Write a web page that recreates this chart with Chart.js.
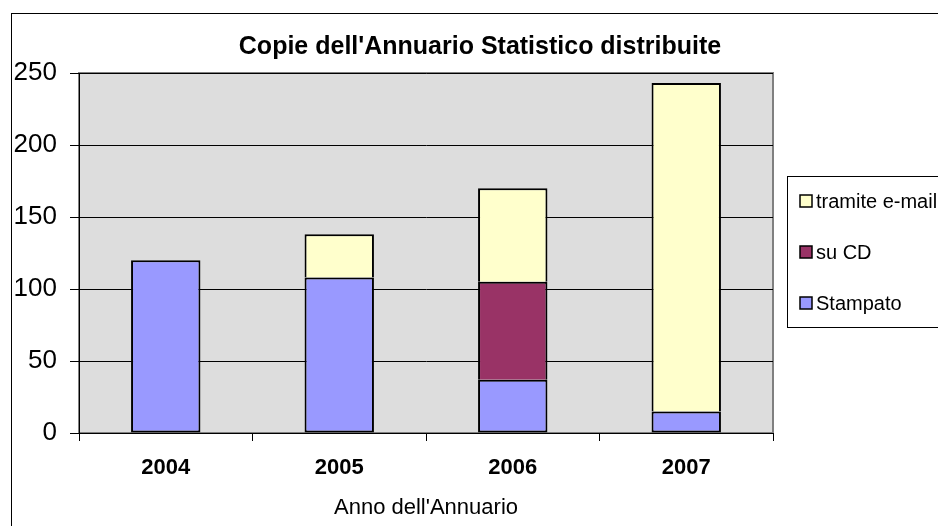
<!DOCTYPE html>
<html>
<head>
<meta charset="utf-8">
<script src="https://cdn.jsdelivr.net/npm/chart.js@4.4.1/dist/chart.umd.min.js"></script>
<style>
  html, body { margin: 0; padding: 0; background: #fff; }
  canvas { display: block; }
</style>
</head>
<body>
<canvas id="annuarioChart" width="938" height="526"></canvas>
<script>
// data
const years = ['2004', '2005', '2006', '2007'];
const stampato = [120, 108, 37, 15];
const suCD = [null, null, 68, null];
const tramiteEmail = [null, 30, 65, 228];
const yTicks = [0, 50, 100, 150, 200, 250];

const FONT = '"Liberation Sans", Arial, sans-serif';

// frame, plot background, title and legend (Excel style)
const excelFrame = {
    id: 'excelFrame',
    beforeDraw(chart) {
        const ctx = chart.ctx;
        const a = chart.chartArea;
        ctx.save();
        ctx.fillStyle = '#fff';
        ctx.fillRect(0, 0, chart.width, chart.height);
        // outer chart border
        ctx.strokeStyle = '#000';
        ctx.lineWidth = 1;
        ctx.strokeRect(11.5, 13.5, chart.width + 20, chart.height + 20);
        // plot area
        ctx.fillStyle = '#dddddd';
        ctx.fillRect(a.left, a.top, a.right - a.left, a.bottom - a.top);
        ctx.strokeStyle = '#808080';
        ctx.lineWidth = 2;
        ctx.strokeRect(a.left, a.top, a.right - a.left, a.bottom - a.top);
        ctx.restore();
    },
    afterDraw(chart) {
        const ctx = chart.ctx;
        ctx.save();
        // title
        ctx.fillStyle = '#000';
        ctx.font = 'bold 25px ' + FONT;
        ctx.textAlign = 'center';
        ctx.textBaseline = 'middle';
        ctx.fillText("Copie dell'Annuario Statistico distribuite", 480, 47);

        // legend box
        ctx.strokeStyle = '#000';
        ctx.lineWidth = 1;
        ctx.strokeRect(787.5, 176.5, 170, 151);
        const sets = chart.data.datasets.slice().reverse();
        ctx.font = '20px ' + FONT;
        ctx.textAlign = 'left';
        sets.forEach(function(ds, i) {
            const cy = 201 + i * 51;
            ctx.fillStyle = ds.backgroundColor;
            ctx.fillRect(800, cy - 6, 12, 12);
            ctx.strokeStyle = '#000';
            ctx.lineWidth = 1.5;
            ctx.strokeRect(800, cy - 6, 12, 12);
            ctx.fillStyle = '#000';
            ctx.fillText(ds.label, 816, cy + 1);
        });
        ctx.restore();
    }
};

const ctx = document.getElementById('annuarioChart').getContext('2d');
const annuarioChart = new Chart(ctx, {
    type: 'bar',
    data: {
        labels: years,
        datasets: [
            {
                label: 'Stampato',
                data: stampato,
                backgroundColor: '#9999ff',
                borderColor: '#000',
                borderWidth: 2,
                borderSkipped: false
            },
            {
                label: 'su CD',
                data: suCD,
                backgroundColor: '#993366',
                borderColor: '#000',
                borderWidth: 2,
                borderSkipped: 'bottom'
            },
            {
                label: 'tramite e-mail',
                data: tramiteEmail,
                backgroundColor: '#ffffcc',
                borderColor: '#000',
                borderWidth: 2,
                borderSkipped: 'bottom'
            }
        ]
    },
    options: {
        responsive: false,
        animation: false,
        events: [],
        layout: {
            padding: { left: 11, right: 165, top: 73, bottom: 0 }
        },
        datasets: {
            bar: { categoryPercentage: 1, barPercentage: 0.4 }
        },
        scales: {
            x: {
                stacked: true,
                grid: {
                    offset: true,
                    drawOnChartArea: false,
                    drawTicks: true,
                    tickLength: 8,
                    color: '#000'
                },
                border: { display: true, color: '#000', width: 1 },
                ticks: {
                    color: '#000',
                    padding: 14,
                    font: { family: FONT, size: 22, weight: 'bold' }
                },
                title: {
                    display: true,
                    text: "Anno dell'Annuario",
                    color: '#000',
                    padding: { top: 0, bottom: 5 },
                    font: { family: FONT, size: 22 }
                },
                afterFit: function(scale) { scale.height = 93; }
            },
            y: {
                stacked: true,
                min: 0,
                max: 250,
                afterBuildTicks: function(scale) {
                    scale.ticks = yTicks.map(function(v) { return { value: v }; });
                },
                grid: {
                    color: '#000',
                    lineWidth: 1,
                    tickLength: 9
                },
                border: { display: true, color: '#000', width: 1 },
                ticks: {
                    color: '#000',
                    padding: 13,
                    font: { family: FONT, size: 26 }
                },
                afterFit: function(scale) { scale.width = 68; }
            }
        },
        plugins: {
            legend: { display: false },
            title: { display: false },
            tooltip: { enabled: false }
        }
    },
    plugins: [excelFrame]
});
</script>
</body>
</html>
